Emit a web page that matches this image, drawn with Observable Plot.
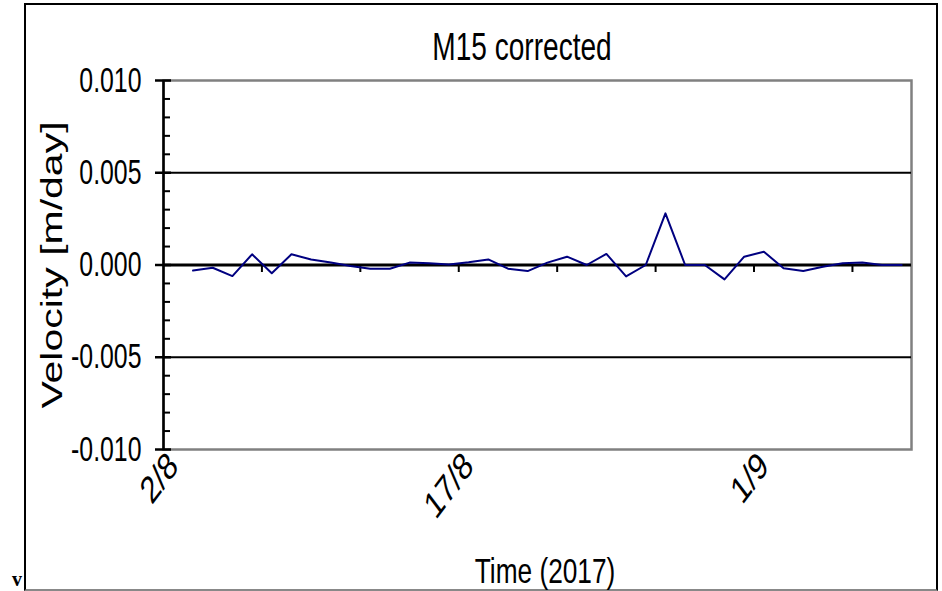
<!DOCTYPE html>
<html>
<head>
<meta charset="utf-8">
<script src="https://cdn.jsdelivr.net/npm/d3@7"></script>
<script src="https://cdn.jsdelivr.net/npm/@observablehq/plot@0.6"></script>
<style>
  html, body { margin: 0; padding: 0; background: #fff; }
  #wrap { position: relative; width: 942px; height: 591px; overflow: hidden; font-family: "Liberation Sans", Arial, sans-serif; }
  #outer { position: absolute; left: 24px; top: 3px; width: 914px; height: 588px; box-sizing: border-box;
           border-left: 2.5px solid #000; border-top: 2.5px solid #000; border-right: 2.5px solid #000; border-bottom: 2px solid #888; }
  #chart { position: absolute; left: 0; top: 0; }
  .lbl { position: absolute; white-space: nowrap; color: #000; line-height: 1; }
  #title { left: 522px; top: 27px; font-size: 39px; transform: translateX(-50%) scaleX(0.72); }
  #xlab { left: 545px; top: 557px; height: 28px; line-height: 28px; font-size: 35px; transform: translateX(-50%) scaleX(0.75); }
  #ylab { left: 53px; top: 265px; font-size: 41px; transform: translate(-50%, -50%) scaleX(0.7) rotate(-90deg); }
  #v { left: 12px; top: 572px; height: 14px; line-height: 14px; font-family: "Liberation Serif", "DejaVu Serif", serif; font-size: 20px; font-weight: bold; }
</style>
</head>
<body>
<div id="wrap">
  <div id="outer"></div>
  <div id="chart"></div>
  <div class="lbl" id="title">M15 corrected</div>
  <div class="lbl" id="xlab">Time (2017)</div>
  <div class="lbl" id="ylab">Velocity [m/day]</div>
  <div class="lbl" id="v">v</div>
</div>
<script>
// ---- data ----
const startDate = "2017-08-03T12:00:00Z";   // first sample (daily)
const velocity = [
  -0.00030, -0.00015, -0.00060, 0.00058, -0.00045, 0.00058, 0.00030, 0.00013,
  -0.00005, -0.00020, -0.00020, 0.00013, 0.00009, 0.00003, 0.00015, 0.00030,
  -0.00020, -0.00033, 0.00013, 0.00045, 0.00000, 0.00060, -0.00062, 0.00000,
  0.00280, 0.00000, 0.00000, -0.00078, 0.00045, 0.00072, -0.00018, -0.00033,
  -0.00010, 0.00010, 0.00013, 0.00000, 0.00000
];
const xDomain = ["2017-08-02", "2017-09-09"];
const xMinorTicks = ["2017-08-07", "2017-08-12", "2017-08-17", "2017-08-22", "2017-08-27", "2017-09-01", "2017-09-06"];
const xLabelTicks = ["2017-08-02T12:00:00Z", "2017-08-17T12:00:00Z", "2017-09-01T12:00:00Z"];
const yDomain = [-0.010, 0.010];
const yMajorTicks = [-0.010, -0.005, 0.000, 0.005, 0.010];
const yGrid = [-0.005, 0.005];
const yMinorTicks = [-0.009, -0.008, -0.007, -0.006, -0.004, -0.003, -0.002, -0.001,
                     0.001, 0.002, 0.003, 0.004, 0.006, 0.007, 0.008, 0.009];

// ---- build table ----
const t0 = new Date(startDate);
const data = velocity.map((v, i) => ({ date: d3.utcDay.offset(t0, i), v }));

const tickDown = { draw(ctx) { ctx.moveTo(0, 0); ctx.lineTo(0, 7); } };

const chart = Plot.plot({
  width: 942,
  height: 591,
  marginLeft: 163,
  marginRight: 31,
  marginTop: 80,
  marginBottom: 142,
  style: { background: "transparent", fontFamily: '"Liberation Sans", Arial, sans-serif', color: "#000" },
  x: { type: "utc", domain: xDomain.map(d => new Date(d)) },
  y: { domain: yDomain },
  marks: [
    Plot.frame({ stroke: "#808080", strokeWidth: 2.5 }),
    Plot.ruleY(yGrid, { stroke: "#000", strokeWidth: 2 }),
    Plot.ruleY([0], { stroke: "#000", strokeWidth: 3 }),
    Plot.dot(xMinorTicks.map(d => new Date(d)), { x: d => d, y: () => 0, symbol: tickDown, stroke: "#000", strokeWidth: 2 }),
    Plot.ruleX([new Date(xDomain[0])], { stroke: "#000", strokeWidth: 2.5 }),
    Plot.axisY({ ticks: yMinorTicks, tickSize: 7, dx: 7, tickFormat: () => "", strokeWidth: 2, label: null }),
    Plot.axisY({ ticks: yMajorTicks, tickSize: 8, dx: 8, tickFormat: () => "", strokeWidth: 2.5, label: null }),
    Plot.axisY({ ticks: yMajorTicks, tickSize: 8, tickPadding: 14, strokeWidth: 2.5,
                 tickFormat: d => d.toFixed(3), fontSize: 35, label: null, ariaLabel: "ylabels" }),
    Plot.axisX({ ticks: xLabelTicks.map(d => new Date(d)), tickSize: 0, tickRotate: -45, tickPadding: 10,
                 tickFormat: d3.utcFormat("%-d/%-m"), fontSize: 38, label: null }),
    Plot.line(data, { x: "date", y: "v", stroke: "#000080", strokeWidth: 2 })
  ]
});

// compress tick-label glyphs horizontally, as in the original picture
d3.select(chart).selectAll("text").each(function () {
  const x = +this.getAttribute("x") || 0, y = +this.getAttribute("y") || 0;
  const t = this.getAttribute("transform") || "";
  if (/rotate/.test(t)) {
    this.setAttribute("transform", t.replace(/rotate/, "scale(0.75,1) rotate"));
  } else {
    this.setAttribute("transform", `${t} translate(${x},${y}) scale(0.71,1) translate(${-x},${-y})`);
  }
});
document.getElementById("chart").appendChild(chart);
</script>
</body>
</html>
